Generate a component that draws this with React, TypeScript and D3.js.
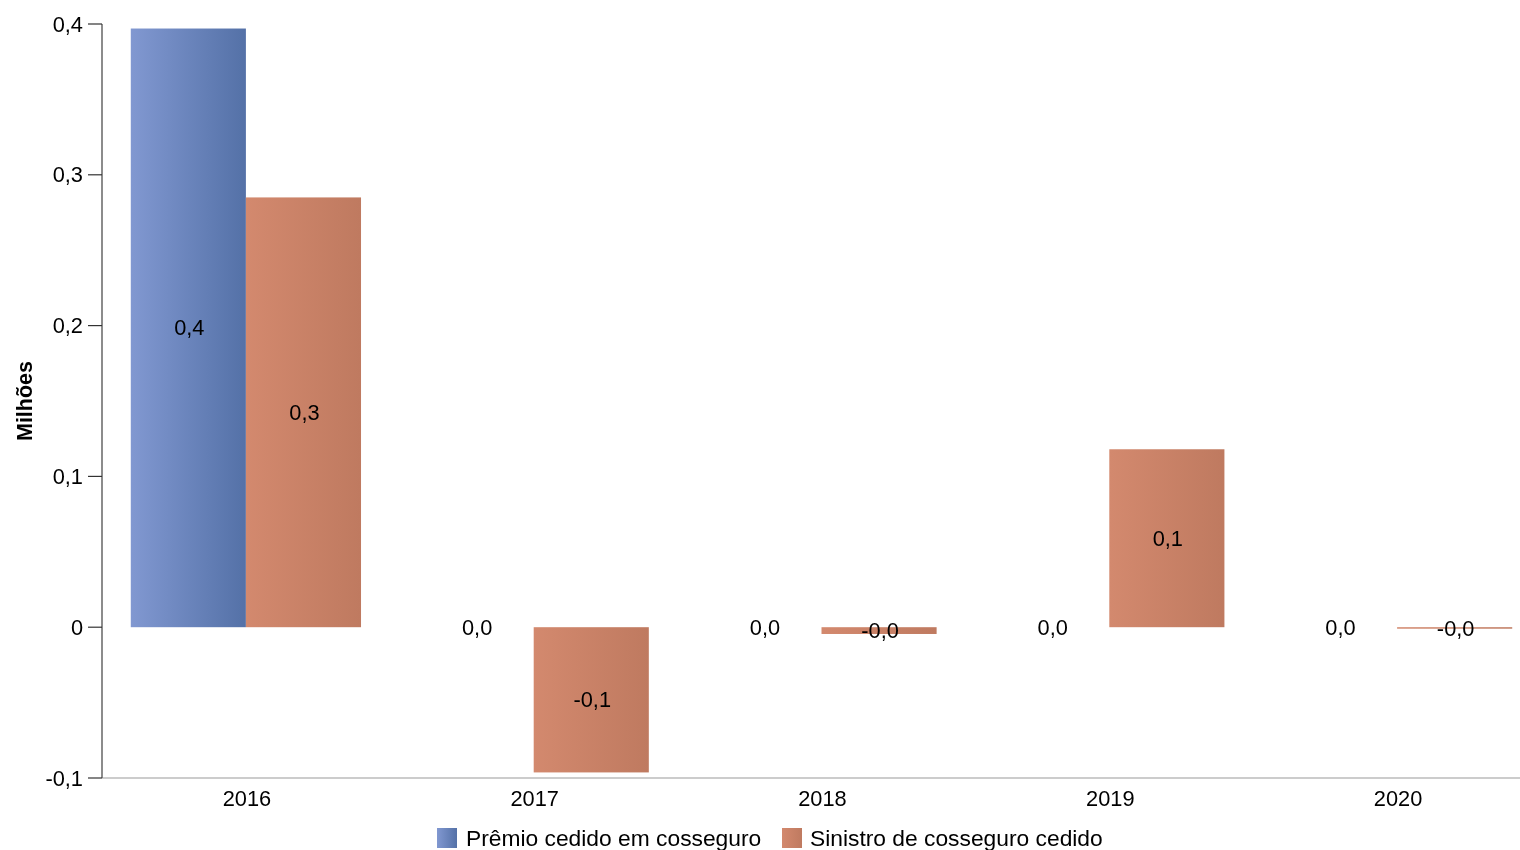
import React from "react";
import * as d3 from "d3";

const categories = ["2016", "2017", "2018", "2019", "2020"];
const premioCedido = [0.397, 0.0, 0.0, 0.0, 0.0];
const sinistroCedido = [0.285, -0.0963, -0.0045, 0.118, -0.001];
const seriesNames = ["Prêmio cedido em cosseguro", "Sinistro de cosseguro cedido"];
const yTicks = [-0.1, 0, 0.1, 0.2, 0.3, 0.4];

const W = 1520;
const H = 850;
const FONT = "'Liberation Sans', Arial, sans-serif";

function fmt(v: number): string {
  return (v < 0 ? "-" : "") + Math.abs(v).toFixed(1).replace(".", ",");
}
function tickFmt(v: number): string {
  if (Math.abs(v) < 1e-9) return "0";
  return fmt(v);
}

export default function App() {
  const y = d3.scaleLinear().domain([-0.1, 0.4]).range([778, 24]);
  const x0 = d3.scaleBand<string>().domain(categories).range([102, 1541]).paddingInner(0.2).paddingOuter(0.1);
  const x1 = d3.scaleBand<string>().domain(["a", "b"]).range([0, x0.bandwidth()]);
  const series = [
    { key: "a", values: premioCedido, grad: "gBlue" },
    { key: "b", values: sinistroCedido, grad: "gOrange" },
  ];
  const y0 = y(0);
  return (
    <div style={{ position: "fixed", left: 0, top: 0 }}>
      <svg width={W} height={H} style={{ display: "block", fontFamily: FONT }}>
        <defs>
          <linearGradient id="gBlue" x1="0" y1="0" x2="1" y2="0">
            <stop offset="0" stopColor="#8198d1" />
            <stop offset="1" stopColor="#5471a7" />
          </linearGradient>
          <linearGradient id="gOrange" x1="0" y1="0" x2="1" y2="0">
            <stop offset="0" stopColor="#d3896e" />
            <stop offset="1" stopColor="#bf7a60" />
          </linearGradient>
        </defs>
        <line x1={102} x2={W} y1={y(-0.1)} y2={y(-0.1)} stroke="#cccccc" strokeWidth={2} />
        <line x1={102} x2={102} y1={y(0.4)} y2={y(-0.1)} stroke="#666666" strokeWidth={1.5} />
        {yTicks.map((t) => (
          <g key={t}>
            <line x1={88} x2={102} y1={y(t)} y2={y(t)} stroke="#333" strokeWidth={1.2} />
            <text x={83} y={y(t)} dy="0.35em" textAnchor="end" fontSize={21.8} fill="#000">
              {tickFmt(t)}
            </text>
          </g>
        ))}
        <text
          transform={`translate(32, ${(y(0.4) + y(-0.1)) / 2}) rotate(-90)`}
          textAnchor="middle"
          fontWeight="bold"
          fontSize={21.5}
        >
          Milhões
        </text>
        {categories.map((c, i) => (
          <g key={c} transform={`translate(${x0(c)},0)`}>
            {series.map((s) => {
              const v = s.values[i];
              const top = Math.min(y(v), y0);
              const h = Math.abs(y(v) - y0);
              return h > 0 ? (
                <rect key={s.key} x={x1(s.key)} y={top} width={x1.bandwidth()} height={Math.max(h, 1.5)} fill={`url(#${s.grad})`} />
              ) : null;
            })}
            {series.map((s) => {
              const v = s.values[i];
              const cy = (y(v) + y0) / 2;
              return (
                <text
                  key={s.key + "l"}
                  x={(x1(s.key) as number) + x1.bandwidth() / 2 + 1}
                  y={cy}
                  dy="0.35em"
                  textAnchor="middle"
                  fontSize={21.8}
                  fill="#000"
                >
                  {fmt(v)}
                </text>
              );
            })}
            <text x={x0.bandwidth() / 2 + 1} y={798} dy="0.35em" textAnchor="middle" fontSize={21.8}>
              {c}
            </text>
          </g>
        ))}
        <g>
          <rect x={437} y={828} width={20} height={20} fill="url(#gBlue)" />
          <text x={466} y={838} dy="0.35em" fontSize={22.8}>{seriesNames[0]}</text>
          <rect x={782} y={828} width={20} height={20} fill="url(#gOrange)" />
          <text x={810} y={838} dy="0.35em" fontSize={22.8}>{seriesNames[1]}</text>
        </g>
      </svg>
    </div>
  );
}
